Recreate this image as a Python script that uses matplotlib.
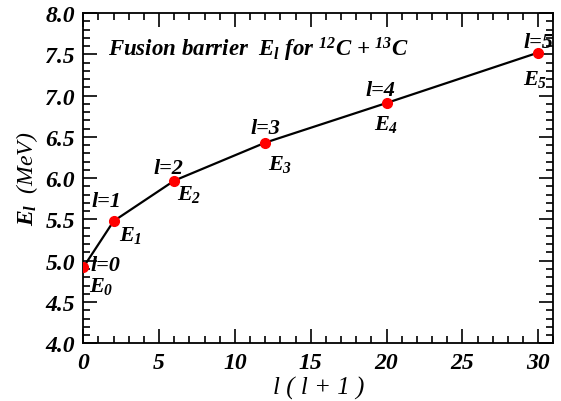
import matplotlib
matplotlib.use("Agg")
import matplotlib.pyplot as plt
from matplotlib.ticker import MultipleLocator, FormatStrFormatter

# ================= DATA =================
l_vals = [0, 1, 2, 3, 4, 5]
x_vals = [0, 2, 6, 12, 20, 30]          # l(l+1)
e_vals = [4.92, 5.48, 5.97, 6.43, 6.91, 7.52]  # E_l in MeV

# label offsets in points: (dx, dy) for "l=k" and for "E_k"
L_OFFS = [(16, 1.5), (-5, 14.4), (-4.3, 9.4), (0, 10.8), (-4.7, 9.4), (0, 8)]
E_OFFS = [(13, -13), (12.5, -9.4), (10.5, -9.4), (10.5, -15), (0, -14.4), (-2, -18.7)]
# ========================================

plt.rcParams['font.family'] = 'Liberation Serif'
plt.rcParams['font.weight'] = 'bold'
plt.rcParams['font.style'] = 'italic'
plt.rcParams['mathtext.fontset'] = 'custom'
plt.rcParams['mathtext.rm'] = 'Liberation Serif:bold:italic'
plt.rcParams['mathtext.it'] = 'Liberation Serif:bold:italic'
plt.rcParams['mathtext.bf'] = 'Liberation Serif:bold:italic'

fig = plt.figure(figsize=(5.61, 4.02), dpi=100)
ax = fig.add_axes([0.1485, 0.1435, 0.8378, 0.8217])

ax.plot(x_vals, e_vals, color='black', linewidth=1.6, zorder=2)
ax.plot(x_vals, e_vals, 'o', color='red', markersize=7, zorder=3)

for i, (x, e) in enumerate(zip(x_vals, e_vals)):
    ax.annotate(f'l={l_vals[i]}', (x, e), xytext=L_OFFS[i], textcoords='offset points',
                ha='center', va='center', fontsize=16, zorder=4)
    ax.annotate(rf'$E_{l_vals[i]}$', (x, e), xytext=E_OFFS[i], textcoords='offset points',
                ha='center', va='center', fontsize=16, zorder=4)

ax.text(0.052, 0.89, r'Fusion barrier  $E_l$ for $^{12}$C + $^{13}$C',
        transform=ax.transAxes, fontsize=16.5, ha='left', va='center')

ax.set_xlim(0, 31)
ax.set_ylim(4.0, 8.0)
ax.xaxis.set_major_locator(MultipleLocator(5))
ax.xaxis.set_minor_locator(MultipleLocator(1))
ax.yaxis.set_major_locator(MultipleLocator(0.5))
ax.yaxis.set_minor_locator(MultipleLocator(0.1))
ax.yaxis.set_major_formatter(FormatStrFormatter('%.1f'))

ax.tick_params(which='both', direction='in', top=True, right=True, width=1.2, labelsize=17)
ax.tick_params(which='major', length=10, pad=6)
ax.tick_params(which='minor', length=5)
for sp in ax.spines.values():
    sp.set_linewidth(1.3)

ax.set_xlabel('l ( l + 1 )', fontsize=18, labelpad=2)
ax.set_ylabel(r'$E_l$  (MeV)', fontsize=17, labelpad=4)

fig.savefig('out.png', dpi=100)
